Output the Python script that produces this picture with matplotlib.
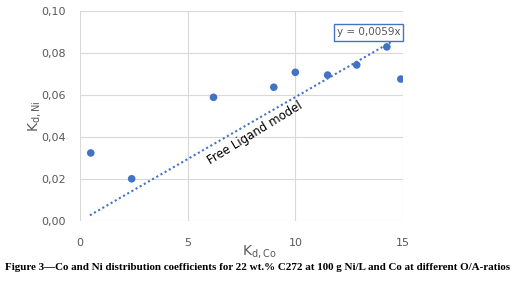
import matplotlib.pyplot as plt
import numpy as np

# Kd,Co vs Kd,Ni measured points
kd_co = [0.5, 2.4, 6.2, 9.0, 10.0, 11.5, 12.85, 14.25, 14.9]
kd_ni = [0.0324, 0.0201, 0.0589, 0.0637, 0.0708, 0.0695, 0.0743, 0.0829, 0.0676]
slope = 0.0059
x_ticks = [0, 5, 10, 15]
y_ticks = [0.00, 0.02, 0.04, 0.06, 0.08, 0.10]

blue = "#4472C4"
grey = "#595959"

fig = plt.figure(figsize=(5.19, 2.83), dpi=100)
ax = fig.add_axes([80 / 519, 1 - 221 / 283, 323 / 519, 210 / 283])

# trendline through origin
xl = np.array([0.46, 14.8])
ax.plot(xl, slope * xl, ls=(0, (1, 1.3)), color=blue, lw=1.5, zorder=2)
ax.scatter(kd_co, kd_ni, s=30, color=blue, zorder=3, edgecolors="none")

ax.set_xlim(0, 15)
ax.set_ylim(0, 0.10)
ax.set_xticks(x_ticks)
ax.set_yticks(y_ticks)
ax.set_xticklabels([str(t) for t in x_ticks])
ax.set_yticklabels([f"{t:.2f}".replace(".", ",") for t in y_ticks])
ax.grid(True, color="#d9d9d9", lw=0.8)
ax.set_axisbelow(True)
for s in ax.spines.values():
    s.set_visible(False)
ax.tick_params(axis="y", length=0, labelsize=8, colors=grey, pad=10)
ax.tick_params(axis="x", length=0, labelsize=8, colors=grey, pad=12)

ax.text(-0.14, 0.5, r"K$_{\mathregular{d,Ni}}$", transform=ax.transAxes, rotation=90,
        ha="center", va="center", fontsize=10, color=grey)
ax.text(0.555, -0.145, r"K$_{\mathregular{d,Co}}$", transform=ax.transAxes,
        ha="center", va="center", fontsize=10, color=grey)

ax.text(8.15, 0.0418, "Free Ligand model", rotation=31.5, rotation_mode="anchor",
        ha="center", va="center", fontsize=8.5, color="black")
ax.text(13.4, 0.0898, "y = 0,0059x", ha="center", va="center", fontsize=7.5, color=grey,
        bbox=dict(boxstyle="square,pad=0.3", fc="white", ec=blue, lw=1))

fig.text(0.01, 1 - 267 / 283, "Figure 3\u2014Co and Ni distribution coefficients for 22 wt.% C272 at 100 g Ni/L and Co at different O/A-ratios",
         ha="left", va="center", fontsize=7.9, fontweight="bold", family="Liberation Serif")

fig.savefig("out.png", dpi=100)
